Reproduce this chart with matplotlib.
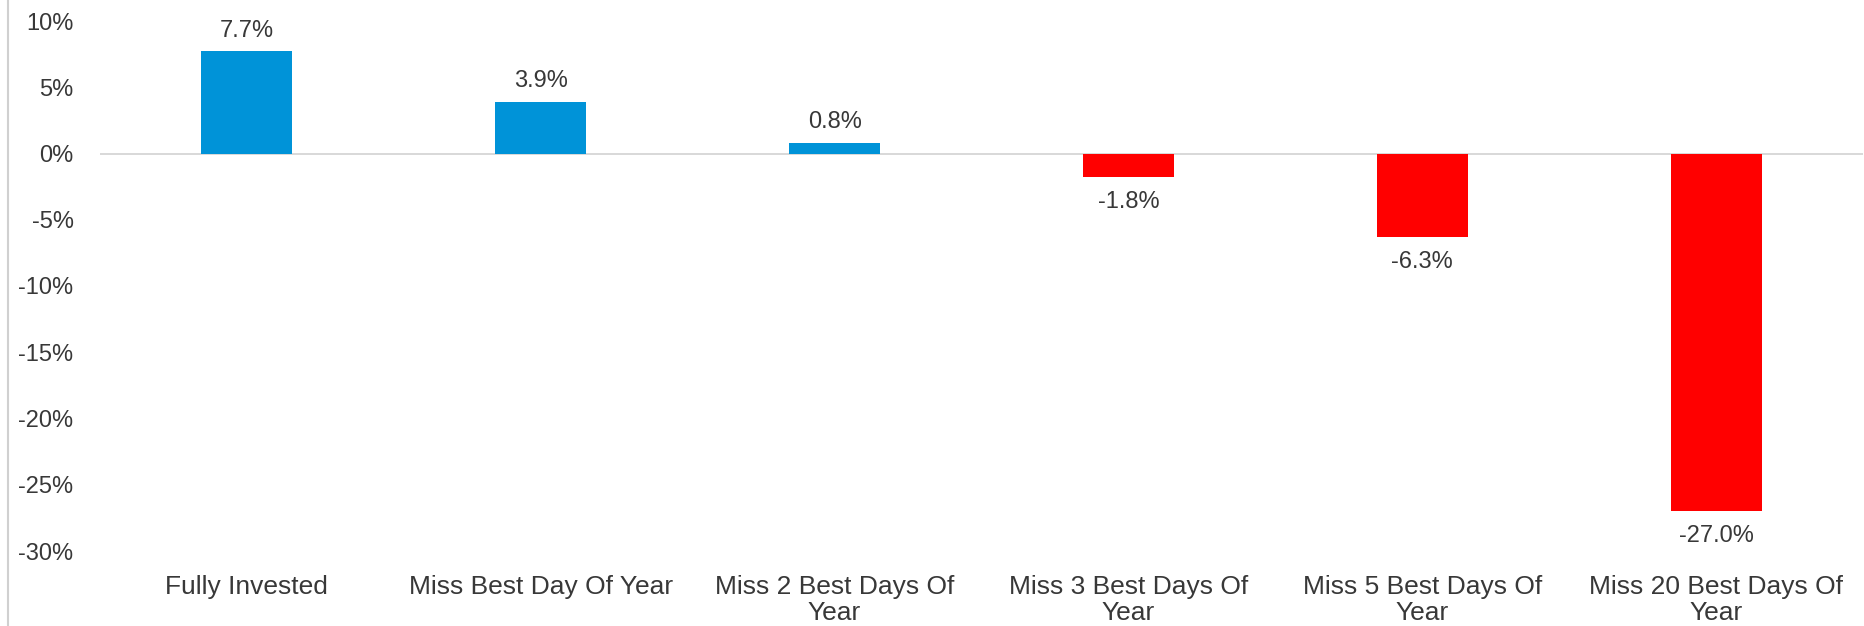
import matplotlib

matplotlib.use("Agg")
import matplotlib.pyplot as plt
from matplotlib.lines import Line2D
from matplotlib.ticker import FuncFormatter

plt.rcParams["font.family"] = ["Liberation Sans", "DejaVu Sans"]

# Annual return when missing the best trading days of the year (%)
categories = [
    "Fully Invested",
    "Miss Best Day Of Year",
    "Miss 2 Best Days Of\nYear",
    "Miss 3 Best Days Of\nYear",
    "Miss 5 Best Days Of\nYear",
    "Miss 20 Best Days Of\nYear",
]
returns = [7.7, 3.9, 0.8, -1.8, -6.3, -27.0]
y_ticks = [10, 5, 0, -5, -10, -15, -20, -25, -30]

BLUE = "#0093D8"
RED = "#FF0000"
TEXT = "#383838"

fig = plt.figure(figsize=(18.64, 6.26), dpi=100)
ax = fig.add_axes([100 / 1864, 1 - 551 / 626, 1763 / 1864, 530 / 626])

x = list(range(len(categories)))
colors = [BLUE if v >= 0 else RED for v in returns]
bars = ax.bar(x, returns, width=0.31, color=colors, zorder=3)

ax.axhline(0, color="#d6d6d6", lw=1.3, zorder=2)

for rect, v in zip(bars, returns):
    cx = rect.get_x() + rect.get_width() / 2
    offset = 7 if v >= 0 else -10
    ax.annotate(
        f"{v:.1f}%",
        xy=(cx, v),
        xytext=(0, offset),
        textcoords="offset points",
        ha="center",
        va="bottom" if v >= 0 else "top",
        fontsize=17,
        color=TEXT,
    )

ax.set_xlim(-0.5, len(categories) - 0.5)
ax.set_ylim(-30, 10)
ax.set_yticks(y_ticks)
ax.yaxis.set_major_formatter(FuncFormatter(lambda v, _: f"{v:.0f}%"))
ax.set_xticks(x)
ax.set_xticklabels(categories, fontsize=19, color=TEXT, linespacing=1.15)
ax.tick_params(axis="y", length=0, pad=19, labelsize=17, labelcolor=TEXT)
ax.tick_params(axis="x", length=0, pad=17)
for side in ax.spines.values():
    side.set_visible(False)

# thin border line on the left edge
fig.add_artist(Line2D([7.5 / 1864, 7.5 / 1864], [0, 1], color="#d0d0d0", lw=1.5))

fig.savefig("out.png", dpi=100)
